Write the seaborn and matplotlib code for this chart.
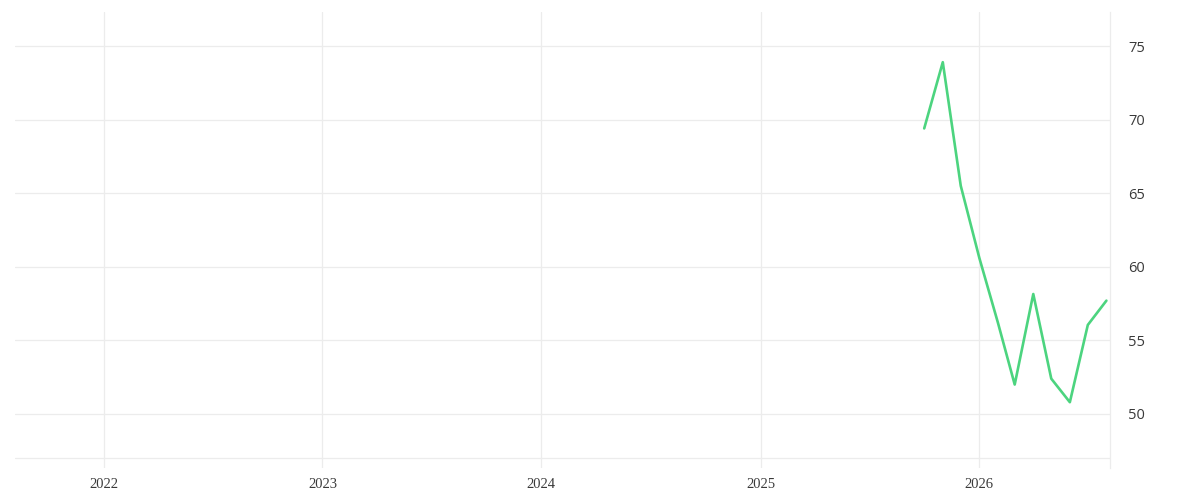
import matplotlib
matplotlib.use("Agg")
import matplotlib.pyplot as plt
import matplotlib.dates as mdates
import pandas as pd
import seaborn as sns

# monthly values, Oct 2025 - Aug 2026
months = ["2025-10-01", "2025-11-01", "2025-12-01", "2026-01-01", "2026-02-01",
          "2026-03-01", "2026-04-01", "2026-05-01", "2026-06-01", "2026-07-01",
          "2026-08-01"]
values = [69.4, 73.9, 65.5, 60.6, 56.2, 52.0, 58.15, 52.4, 50.8, 56.05, 57.7]
y_ticks = [50, 55, 60, 65, 70, 75]

df = pd.DataFrame({"date": pd.to_datetime(months), "value": values})

sns.set_style("white")
grid_c = "#ececec"
text_c = "#3a3a3a"

fig = plt.figure(figsize=(12, 5), dpi=100)
ax = fig.add_axes([0.0125, 0.064, 0.9125, 0.912])

sns.lineplot(data=df, x="date", y="value", ax=ax, color="#4cd47f", linewidth=1.9)

ax.set_xlim(pd.Timestamp("2021-08-06"), pd.Timestamp("2026-08-07"))
ax.set_ylim(46.33, 77.31)
ax.set_yticks(y_ticks)
ax.axhline(47.0, color=grid_c, lw=0.9, zorder=0)

ax.xaxis.set_major_locator(mdates.YearLocator())
ax.xaxis.set_major_formatter(mdates.DateFormatter("%Y"))
ax.yaxis.tick_right()
ax.grid(True, color=grid_c, lw=0.9)
ax.set_axisbelow(True)

for s in ["top", "left", "bottom"]:
    ax.spines[s].set_visible(False)
ax.spines["right"].set_color(grid_c)
ax.spines["right"].set_linewidth(0.9)

ax.tick_params(axis="x", length=0, pad=7, labelsize=10.5, colors=text_c)
ax.tick_params(axis="y", length=0, pad=13, labelsize=10.5, colors=text_c)
for lab in ax.get_xticklabels():
    lab.set_family(["Liberation Serif", "DejaVu Serif"])
for lab in ax.get_yticklabels():
    lab.set_family(["Open Sans", "DejaVu Sans"])

ax.set_xlabel("")
ax.set_ylabel("")

fig.savefig("out.png", dpi=100)
